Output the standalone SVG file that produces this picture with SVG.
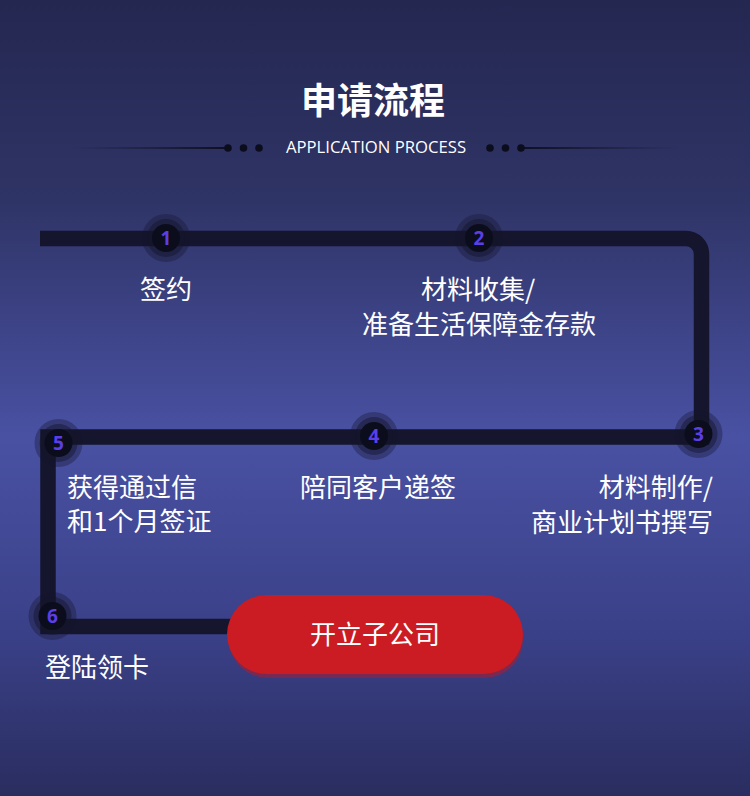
<svg xmlns="http://www.w3.org/2000/svg" width="750" height="796" viewBox="0 0 750 796">
<defs>
<linearGradient id="bg" x1="0" y1="0" x2="0" y2="1">
<stop offset="0" stop-color="#242750"/>
<stop offset="0.25" stop-color="#2f3466"/>
<stop offset="0.55" stop-color="#4951a3"/>
<stop offset="0.8" stop-color="#3a4087"/>
<stop offset="1" stop-color="#2a2d5f"/>
</linearGradient>
<linearGradient id="ll" x1="0" y1="0" x2="1" y2="0">
<stop offset="0" stop-color="#15162c" stop-opacity="0"/>
<stop offset="1" stop-color="#0e0f20"/>
</linearGradient>
<linearGradient id="lr" x1="0" y1="0" x2="1" y2="0">
<stop offset="0" stop-color="#0e0f20"/>
<stop offset="1" stop-color="#15162c" stop-opacity="0"/>
</linearGradient>
<g id="dot">
<circle r="24" fill="#14152b" fill-opacity="0.35"/>
<circle r="19" fill="#14152b" fill-opacity="0.45"/>
<circle r="14" fill="#0c0d1c"/>
</g>
</defs>
<style>
.t{font-family:"Noto Sans CJK SC","Noto Sans",sans-serif;fill:#ffffff;font-size:26px}
.n{font-family:"Open Sans","Noto Sans",sans-serif;font-weight:700;font-size:19px;fill:#5b3fe6;text-anchor:middle}
.dt{fill:#0c0d1c}
</style>
<rect width="750" height="796" fill="url(#bg)"/>
<g id="header">
<text x="373" y="114" text-anchor="middle" font-family="'Noto Sans CJK SC',sans-serif" font-weight="700" font-size="36" fill="#ffffff">申请流程</text>
<rect x="70" y="147" width="158" height="2" fill="url(#ll)"/>
<rect x="520" y="147" width="160" height="2" fill="url(#lr)"/>
<circle class="dt" cx="228" cy="148" r="3.8"/>
<circle class="dt" cx="243.5" cy="148" r="3.8"/>
<circle class="dt" cx="259" cy="148" r="3.8"/>
<circle class="dt" cx="490" cy="148" r="3.8"/>
<circle class="dt" cx="505.5" cy="148" r="3.8"/>
<circle class="dt" cx="521" cy="148" r="3.8"/>
<text x="376" y="152.5" text-anchor="middle" font-family="'Open Sans','Noto Sans',sans-serif" font-size="16.7" fill="#ffffff">APPLICATION PROCESS</text>
</g>
<g id="connectors">
<path d="M40,238.5 H686 A15.5,15.5 0 0 1 701.5,254 V437 H48 V626.5 H250" fill="none" stroke="#15162d" stroke-width="15.5" stroke-linejoin="miter"/>
</g>
<g id="node1">
<use href="#dot" x="166" y="238"/>
<text class="n" x="166" y="245">1</text>
<text class="t" x="166" y="299" text-anchor="middle">签约</text>
</g>
<g id="node2">
<use href="#dot" x="479" y="238"/>
<text class="n" x="479" y="245">2</text>
<text class="t" x="478" y="299" text-anchor="middle">材料收集/</text>
<text class="t" x="479" y="334" text-anchor="middle">准备生活保障金存款</text>
</g>
<g id="node3">
<use href="#dot" x="698.5" y="434"/>
<text class="n" x="698.5" y="441">3</text>
<text class="t" x="713" y="497" text-anchor="end">材料制作/</text>
<text class="t" x="713" y="532" text-anchor="end">商业计划书撰写</text>
</g>
<g id="node4">
<use href="#dot" x="374" y="436"/>
<text class="n" x="374" y="443">4</text>
<text class="t" x="378" y="497" text-anchor="middle">陪同客户递签</text>
</g>
<g id="node5">
<use href="#dot" x="58.5" y="443"/>
<text class="n" x="58.5" y="450">5</text>
<text class="t" x="67" y="496.5">获得通过信</text>
<text class="t" x="67" y="531">和1个月签证</text>
</g>
<g id="node6">
<use href="#dot" x="52.5" y="616"/>
<text class="n" x="52.5" y="623">6</text>
<text class="t" x="45" y="677">登陆领卡</text>
</g>
<g id="button">
<rect x="229" y="601" width="294" height="77" rx="38.5" fill="#8a2547" fill-opacity="0.8"/>
<rect x="227" y="595" width="296" height="79" rx="39.5" fill="#cb1b23"/>
<text class="t" x="375" y="644" text-anchor="middle">开立子公司</text>
</g>
</svg>
